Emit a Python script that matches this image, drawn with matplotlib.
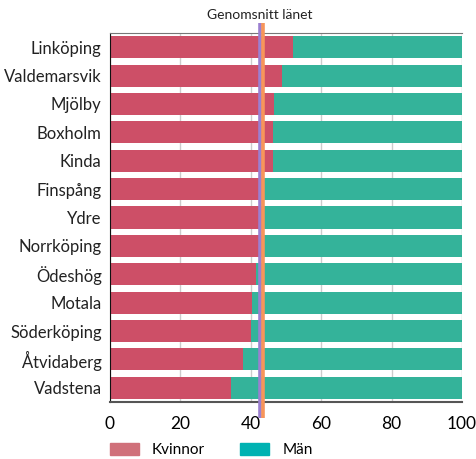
import matplotlib.pyplot as plt
from matplotlib.patches import Patch
import numpy as np

plt.rcParams['font.family'] = ['Lato', 'DejaVu Sans']

kommuner = ["Linköping", "Valdemarsvik", "Mjölby", "Boxholm", "Kinda", "Finspång",
            "Ydre", "Norrköping", "Ödeshög", "Motala", "Söderköping", "Åtvidaberg", "Vadstena"]
kvinnor = [52.0, 48.8, 46.5, 46.2, 46.2, 43.8, 43.6, 43.3, 41.5, 40.2, 40.0, 37.8, 34.4]
man = [100 - k for k in kvinnor]
snitt_lila = 42.7
snitt_orange = 43.6

red = '#CD4F67'
green = '#34B39A'

fig = plt.figure(figsize=(4.77, 4.59), dpi=100)
ax = fig.add_axes([110/477, 1 - 402/459, 352/477, 369/459])

y = np.arange(len(kommuner))
ax.barh(y, kvinnor, height=0.78, color=red, zorder=2)
ax.barh(y, man, left=kvinnor, height=0.78, color=green, zorder=2)

ax.set_xlim(0, 100)
ax.set_ylim(len(kommuner) - 0.5, -0.5)
ax.set_yticks(y)
ax.set_yticklabels(kommuner, fontsize=12, color='#222222')
ax.set_xticks([0, 20, 40, 60, 80, 100])
ax.tick_params(axis='x', labelsize=12.5, length=0, pad=10)
ax.tick_params(axis='y', length=0, pad=6)
ax.grid(axis='x', color='#cccccc', linewidth=1, zorder=0)

ax.spines['right'].set_visible(False)
ax.spines['top'].set_color('#777777')
ax.spines['bottom'].set_color('#555555')
ax.spines['bottom'].set_linewidth(1.5)
ax.spines['left'].set_color('#111111')

# average lines
trans = ax.get_xaxis_transform()
ax.plot([snitt_lila, snitt_lila], [-0.043, 1.027], transform=trans, color='#9B7FD0',
        linewidth=2.6, clip_on=False, zorder=5, solid_capstyle='butt')
ax.plot([snitt_orange, snitt_orange], [-0.043, 1.027], transform=trans, color='#F7955A',
        linewidth=2.6, clip_on=False, zorder=5, solid_capstyle='butt')
fig.text(260/477, 1 - 15/459, "Genomsnitt länet", ha='center', va='center',
         fontsize=10, color='#222222')

handles = [Patch(color='#D0707A', label='Kvinnor'), Patch(color='#00B2B2', label='Män')]
fig.legend(handles=handles, loc='center left', bbox_to_anchor=(110/477, 1 - 450/459), ncol=2,
           frameon=False, fontsize=11, handlelength=1.9, handleheight=0.9,
           columnspacing=2.3, handletextpad=0.85, borderpad=0, borderaxespad=0)

fig.savefig('out.png', dpi=100)
